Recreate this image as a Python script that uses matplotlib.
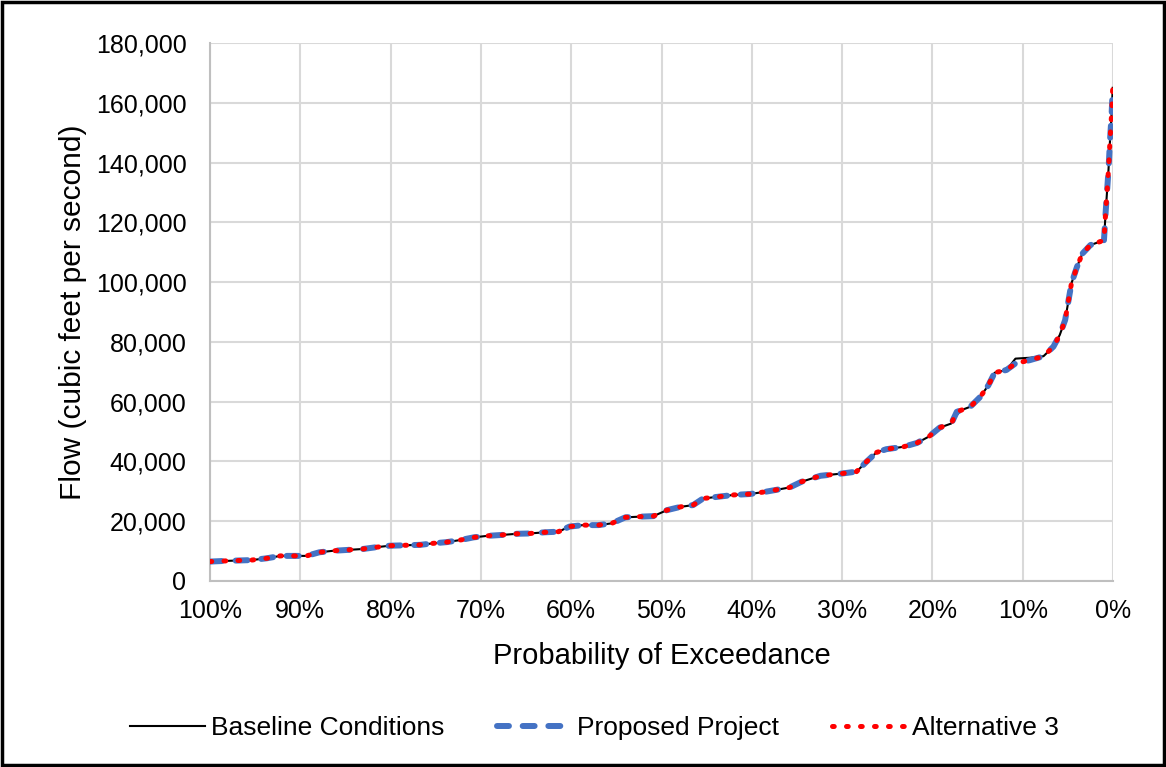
import matplotlib
matplotlib.use("Agg")
import matplotlib.pyplot as plt
from matplotlib.patches import Rectangle
from matplotlib.ticker import FuncFormatter, MultipleLocator

plt.rcParams['font.family'] = ['Liberation Sans', 'DejaVu Sans']

# Probability of exceedance (%)
exceedance = [100, 98.5, 95.4, 93.7, 92.2, 89.3, 87.9, 86.4, 83.1, 81.6, 80.1,
              76.7, 75.3, 73.8, 72.3, 70.8, 69.3, 67.7, 66.0, 64.6, 62.9, 61.4,
              60.2, 58.7, 57.0, 55.5, 54.0, 52.6, 50.9, 49.4, 47.9, 46.5, 45.4,
              42.0, 40.2, 38.4, 35.8, 34.5, 32.4, 29.9, 28.4, 27.3, 26.2, 25.1,
              23.2, 21.7, 20.4, 19.2, 17.9, 17.3, 15.8, 14.7, 13.8, 13.1, 11.8,
              10.8, 9.2, 7.7, 6.6, 5.9, 5.3, 4.6, 4.0, 3.4, 2.5, 1.0, 0.8, 0.7,
              0.5, 0.33, 0.15, 0.03]

baseline = [6500, 6700, 7000, 7600, 8400, 8400, 9600, 10100, 10700, 11300, 11800,
            12100, 12600, 13000, 13700, 14600, 15100, 15400, 15800, 15900, 16300, 16500,
            18200, 18700, 18700, 19300, 21300, 21500, 21700, 23700, 24800, 25400, 27600,
            28800, 29100, 29900, 31300, 33200, 35200, 36000, 36600, 39900, 43000, 44100,
            44900, 46200, 48300, 51300, 52700, 56600, 58300, 61600, 65500, 69700, 70600,
            74400, 74700, 75200, 78400, 82300, 87300, 99600, 105000, 109500, 112400, 114000, 124000, 128500,
            137500, 147500, 156500, 165000]

proposed = [6500, 6700, 7000, 7600, 8400, 8400, 9600, 10100, 10700, 11300, 11800,
            12100, 12600, 13000, 13700, 14600, 15100, 15400, 15800, 15900, 16300, 16500,
            18200, 18700, 18700, 19300, 21300, 21500, 21700, 23700, 24800, 25400, 27600,
            28800, 29100, 29900, 31300, 33200, 35200, 36000, 36600, 39900, 43000, 44100,
            44900, 46200, 48300, 51300, 52700, 56600, 58300, 61600, 65500, 69700, 70600,
            72800, 73900, 75200, 78400, 82300, 87300, 99600, 105000, 109500, 112400, 114000, 124000, 128500,
            137500, 147500, 156500, 165000]

alternative3 = list(proposed)

x_ticks = [100, 90, 80, 70, 60, 50, 40, 30, 20, 10, 0]

W, H = 1166, 767
fig = plt.figure(figsize=(W / 100, H / 100), dpi=100)
ax = fig.add_axes([210 / W, 1 - 581 / H, (1113 - 210) / W, (581 - 43) / H])

ax.plot(exceedance, baseline, color='black', lw=1.5, label='Baseline Conditions', zorder=3)
ax.plot(exceedance, proposed, color='#4472C4', lw=4.3, dashes=(2.0, 2.3),
        dash_capstyle='round', label='Proposed Project', zorder=4)
ax.plot(exceedance, alternative3, color='#FF0000', lw=3.6, dashes=(0.35, 2.45),
        dash_capstyle='round', label='Alternative 3', zorder=5)

ax.set_xlim(100, 0)
ax.set_ylim(0, 180000)
ax.set_xticks(x_ticks)
ax.set_xticklabels([f"{t}%" for t in x_ticks])
ax.yaxis.set_major_locator(MultipleLocator(20000))
ax.yaxis.set_major_formatter(FuncFormatter(lambda v, p: f"{int(v):,}"))

ax.grid(True, color='#d9d9d9', lw=1.5)
ax.set_axisbelow(True)
for s in ['top', 'right']:
    ax.spines[s].set_visible(False)
for s in ['left', 'bottom']:
    ax.spines[s].set_color('#bfbfbf')
    ax.spines[s].set_linewidth(1.5)
ax.tick_params(length=0, labelsize=18, colors='black')
ax.tick_params(axis='x', pad=13)
ax.tick_params(axis='y', pad=17)

ax.set_xlabel('Probability of Exceedance', fontsize=21, labelpad=14)
ax.set_ylabel('Flow (cubic feet per second)', fontsize=21.5, labelpad=6)

fig.legend(loc='center', bbox_to_anchor=(0.51, 0.051), ncol=3, frameon=False,
           fontsize=19, handlelength=2.85, handletextpad=0.2, columnspacing=2.0)

fig.patches.append(Rectangle((0.002, 0.003), 0.996, 0.994, transform=fig.transFigure,
                             fill=False, edgecolor='black', lw=2.5))

fig.savefig('out.png', dpi=100)
